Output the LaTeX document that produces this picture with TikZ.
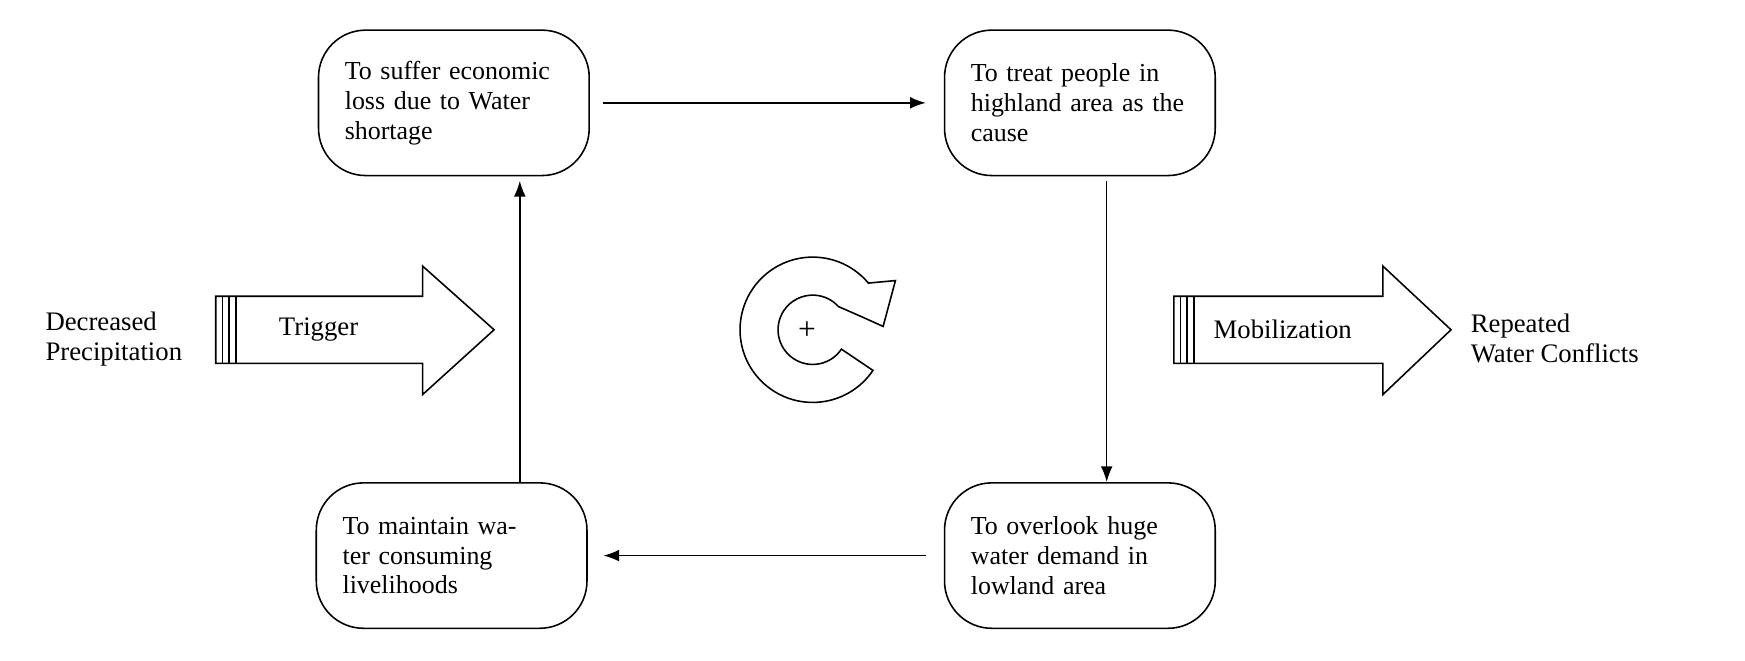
\documentclass[tikz,border=0pt]{standalone}
\usepackage{fontspec}
\setmainfont{Liberation Serif}
\usetikzlibrary{arrows.meta,calc}
\tikzset{
  loopbox/.style={draw,rounded corners=12pt,minimum width=2.42cm,minimum height=1.3cm,
    text width=1.95cm,align=left,inner sep=0pt,font=\fontsize{6.6}{7.6}\selectfont},
  flow/.style={-{Latex[length=4pt,width=3pt]},thin},
  side/.style={align=left,font=\fontsize{6.8}{7.6}\selectfont,inner sep=0pt}
}
\begin{document}
\begin{tikzpicture}[x=0.01cm,y=-0.01cm]
  \useasboundingbox (0,0) rectangle (1561,591);
  % loop boxes
  \node[loopbox] (loss) at (406,92) {To suffer economic loss due to Water shortage};
  \node[loopbox] (blame) at (966,92) {To treat people in highland area as the cause};
  \node[loopbox] (demand) at (966,497) {To overlook huge water demand in lowland area};
  \node[loopbox] (keep) at (404,497) {To maintain water consuming \mbox{livelihoods}};
  % connectors
  \draw[flow] ([xshift=0.12cm]loss.east) -- ([xshift=-0.16cm]blame.west);
  \draw[flow] ([yshift=-0.04cm]blame.south -| 990,0) -- (demand.north -| 990,0);
  \draw[flow] ([xshift=-0.16cm]demand.west) -- ([xshift=0.14cm]keep.east);
  \draw[flow] (keep.north -| 465,0) -- ([yshift=-0.04cm]loss.south -| 465,0);
  % block arrows
  \draw (193,265) -- (378,265) -- (378,238) -- (442,295) -- (378,353) -- (378,325) -- (193,325) -- cycle;
  \draw (199,265) -- (199,325) (205,265) -- (205,325) (211,265) -- (211,325);
  \node[side] (trig) at (285,295) {Trigger};
  \node[side,anchor=west] (rain) at (40,303) {Decreased\\Precipitation};
  \draw (1050,265) -- (1237,265) -- (1237,238) -- (1298,295) -- (1237,353) -- (1237,325) -- (1050,325) -- cycle;
  \draw (1056,265) -- (1056,325) (1062,265) -- (1062,325) (1068,265) -- (1068,325);
  \node[side,anchor=west] (mob) at (1085,295) {Mobilization};
  \node[side,anchor=west] (conf) at (1315,303) {Repeated\\Water Conflicts};
  % reinforcing loop sign
  \draw ($(727,295)+(-40:65)$)
    arc[start angle=-40,end angle=-326,radius=65]
    -- ($(727,295)+(34:31)$) arc[start angle=34,end angle=318,radius=31]
    -- (770,283) -- (790,292) -- (801,251) -- cycle;
  \node[font=\fontsize{8}{8}\selectfont] (plus) at (722,296) {+};
\end{tikzpicture}
\end{document}
